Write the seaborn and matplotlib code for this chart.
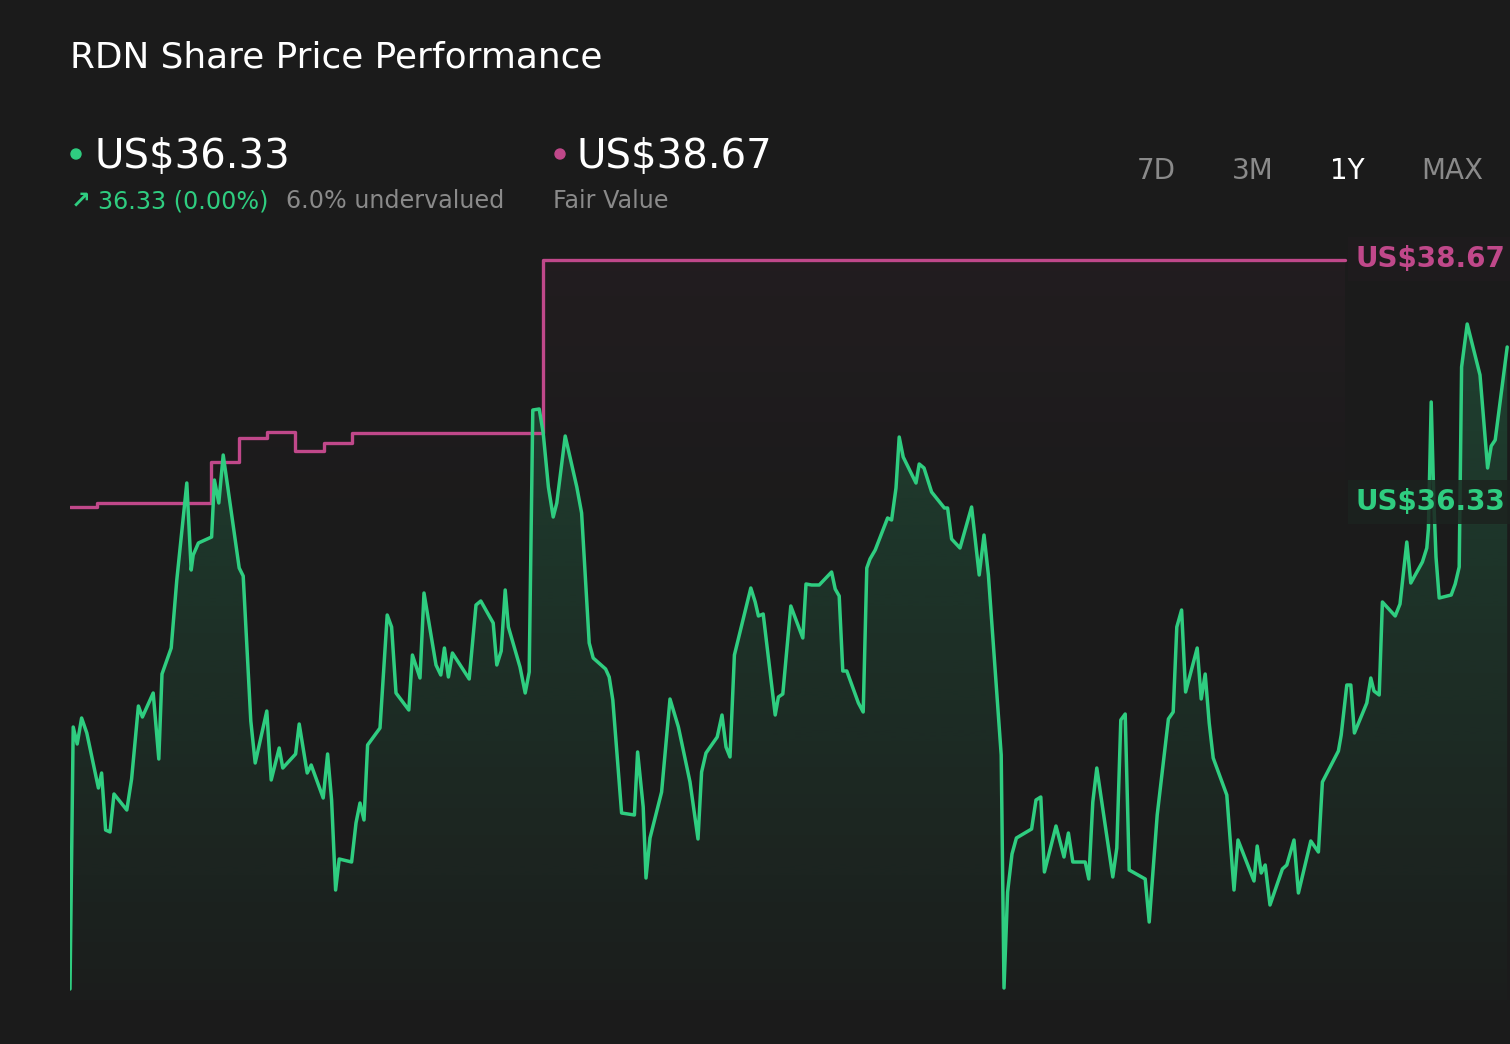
import numpy as np
import pandas as pd
import matplotlib
matplotlib.use("Agg")
import matplotlib.pyplot as plt
from matplotlib.patches import Ellipse
import matplotlib.colors as mcolors
import seaborn as sns

# ---------------- data ----------------
days = [0, 0.8, 1.8, 2.9, 4.2, 7.1, 7.9, 8.9, 10.0, 11.0, 14.2, 15.4, 17.1, 18.1, 20.8, 22.2, 23.0, 25.3,
        26.7, 29.2, 30.3, 30.8, 32.1, 35.4, 36.1, 37.2, 38.3, 42.3, 43.3, 45.2, 46.3,
        49.2, 50.3, 52.3, 53.2, 56.4, 57.3, 59.3, 60.3, 63.3, 64.4, 65.4, 66.4, 67.3, 70.4, 71.5, 72.5,
        73.5, 74.4, 77.5, 79.3, 80.4, 81.5, 84.7, 85.6, 87.5, 88.5, 91.5, 92.7, 93.6, 94.6,
        95.6, 99.8, 101.5, 102.7, 105.8, 106.7, 107.8, 108.8, 109.6, 112.5, 113.8, 114.8, 115.7, 117.3,
        118.3, 119.6, 120.8, 121.7, 123.8, 126.7, 127.9, 129.8, 130.8, 133.9, 134.8, 135.7, 137.9, 141.1, 141.9,
        143.3, 144.0, 145.0, 147.9, 150.0, 152.1, 155.0, 157.0, 157.9, 159.0, 161.8, 163.0, 164.0, 165.0,
        166.1, 170.2, 171.3, 172.1, 173.3, 176.3, 177.1, 178.2, 180.2, 183.2, 184.0, 185.4, 187.3,
        190.4, 191.3, 192.3, 193.2, 194.2, 197.1, 198.3, 199.2, 200.0, 201.3, 204.4, 205.4, 206.5, 207.3,
        208.3, 211.5, 212.3, 213.5, 215.4, 218.6, 219.4, 220.4, 222.5, 225.4, 227.3, 228.5, 229.6, 232.8,
        233.5, 234.4, 235.5, 236.6,
        240.4, 241.5, 242.7, 243.6, 246.5, 248.5, 249.6, 250.7, 253.8, 254.7, 255.7, 256.7, 260.7, 261.7,
        262.7, 263.8, 264.8, 268.8, 269.8, 271.8, 274.6, 275.8, 276.7, 277.9, 278.9, 281.8, 282.8, 283.8,
        284.8, 285.8, 289.2, 291.0, 292.0,
        296.0, 296.8, 297.8, 298.8, 300.0, 303.1, 304.2, 306.0, 307.1, 310.2, 312.1, 313.1, 317.1, 317.8,
        319.2, 320.2, 321.1, 324.2, 325.2, 326.0, 327.3, 328.1, 331.3, 332.5, 334.2, 335.2, 338.1, 339.2,
        339.6, 340.3, 341.0, 341.5, 342.3, 345.3, 346.3, 347.3, 347.9, 349.3, 352.5, 354.4, 355.3, 356.3, 359.3]

prices = [31.38, 34.00, 33.83, 34.09, 33.94, 33.39, 33.54, 32.97, 32.95, 33.33, 33.17, 33.48, 34.21, 34.10,
          34.34, 33.68, 34.53, 34.79, 35.47, 36.44, 35.57, 35.72, 35.84, 35.90, 36.47, 36.24, 36.72, 35.59,
          35.51, 34.06, 33.64,
          34.16, 33.47, 33.79, 33.59, 33.73, 34.03, 33.54, 33.62, 33.29, 33.73, 33.27, 32.37, 32.68, 32.65,
          33.04, 33.24, 33.07, 33.82, 33.99, 35.12, 35.00, 34.34, 34.17, 34.72, 34.49, 35.34, 34.62, 34.52,
          34.79, 34.50,
          34.74, 34.48, 35.22, 35.26, 35.04, 34.62, 34.76, 35.37, 35.00, 34.60, 34.34, 34.55, 37.17, 37.18,
          36.94, 36.40, 36.10, 36.24, 36.91, 36.40, 36.14, 34.84, 34.69, 34.58, 34.50, 34.27, 33.14, 33.12, 33.75,
          33.20, 32.49, 32.89, 33.35, 34.28, 34.00, 33.45, 32.88, 33.55, 33.74, 33.90, 34.12, 33.80, 33.70,
          34.72, 35.39, 35.25, 35.11, 35.13, 34.12, 34.30, 34.33, 35.21, 34.89, 35.43, 35.42, 35.42,
          35.55, 35.38, 35.31, 34.56, 34.56, 34.24, 34.15, 35.59, 35.68, 35.77, 36.09, 36.07, 36.39, 36.90,
          36.70, 36.44, 36.63, 36.59, 36.35, 36.19, 36.19, 35.88, 35.79, 36.20, 35.52, 35.92, 35.52, 33.72,
          31.39, 32.35, 32.73, 32.89,
          32.98, 33.27, 33.30, 32.55, 33.01, 32.70, 32.94, 32.65, 32.65, 32.48, 33.25, 33.59, 32.50, 32.79,
          34.07, 34.13, 32.57, 32.48, 32.05, 33.12, 34.08, 34.15, 35.00, 35.17, 34.35, 34.79, 34.28, 34.53,
          34.04, 33.69, 33.32, 32.37, 32.87,
          32.46, 32.81, 32.54, 32.62, 32.22, 32.58, 32.62, 32.87, 32.34, 32.86, 32.75, 33.45, 33.76, 33.92,
          34.42, 34.42, 33.94, 34.24, 34.49, 34.36, 34.32, 35.25, 35.11, 35.23, 35.85, 35.44, 35.65, 35.79,
          35.98, 37.25, 36.21, 35.70, 35.29, 35.32, 35.43, 35.60, 37.60, 38.03, 37.52, 36.59, 36.81, 36.87, 37.80]

fv_days = [0, 6.8, 35.3, 42.3, 49.3, 56.3, 63.5, 70.5, 118.2, 318.8]
fv_values = [36.20, 36.24, 36.65, 36.89, 36.95, 36.76, 36.84, 36.94, 38.67, 38.67]

title = "RDN Share Price Performance"
current_price = "US$36.33"
fair_value = "US$38.67"
change_text = "36.33 (0.00%)"
valuation_text = "6.0% undervalued"
fv_caption = "Fair Value"
periods = ["7D", "3M", "1Y", "MAX"]
active_period = "1Y"

# ---------------- style ----------------
BG = "#1b1b1b"
GREEN = "#2fcd80"
PINK = "#c0488a"
GREY = "#8a8a8a"

sns.set_theme(style="dark", rc={"axes.facecolor": BG, "figure.facecolor": BG})
plt.rcParams["font.family"] = ["DejaVu Sans"]

W, H = 1510, 1044
fig = plt.figure(figsize=(W / 100, H / 100), dpi=100, facecolor=BG)


def fx(px):
    return px / W


def fy(py):
    return 1 - py / H


ax = fig.add_axes([fx(70), fy(1000), 1 - fx(70), 775 / H])
ax.set_facecolor(BG)
XMAX = 360
Y0, Y1 = 31.27, 39.02

df = pd.DataFrame({"day": days, "price": prices})
fvdf = pd.DataFrame({"day": fv_days, "value": fv_values})

# gradient fills
poly = ax.fill_between(df["day"], df["price"], Y0, facecolor="none", edgecolor="none")
n = 256
alpha = np.linspace(0.015, 0.24, n).reshape(-1, 1)
img = np.zeros((n, 1, 4))
img[..., :3] = np.array(mcolors.to_rgb(GREEN))
img[..., 3] = alpha
im = ax.imshow(img, extent=[0, XMAX, Y0, Y1], aspect="auto", origin="lower", zorder=2, interpolation="bilinear")
im.set_clip_path(poly.get_paths()[0], transform=ax.transData)

poly2 = ax.fill_between(fvdf["day"], fvdf["value"], Y0, step="post", facecolor="none", edgecolor="none")
alpha2 = np.clip(np.linspace(-0.07, 0.05, n), 0, None).reshape(-1, 1)
img2 = np.zeros((n, 1, 4))
img2[..., :3] = np.array(mcolors.to_rgb(PINK))
img2[..., 3] = alpha2
im2 = ax.imshow(img2, extent=[0, XMAX, Y0, Y1], aspect="auto", origin="lower", zorder=1, interpolation="bilinear")
im2.set_clip_path(poly2.get_paths()[0], transform=ax.transData)

sns.lineplot(data=fvdf, x="day", y="value", ax=ax, color=PINK, lw=2.4, drawstyle="steps-post", zorder=4)
sns.lineplot(data=df, x="day", y="price", ax=ax, color=GREEN, lw=2.5, zorder=5)

ax.set_xlim(0, XMAX)
ax.set_ylim(Y0, Y1)
ax.set_xlabel("")
ax.set_ylabel("")
ax.set_xticks([])
ax.set_yticks([])
ax.grid(False)
for s in ax.spines.values():
    s.set_visible(False)

# ---------------- header text ----------------
fig.text(fx(70), fy(67), title, color="white", fontsize=25.8, va="baseline", ha="left")

fig.patches.append(Ellipse((fx(76), fy(154)), 10 / W, 10 / H, transform=fig.transFigure, color=GREEN))
fig.text(fx(94), fy(168), current_price, color="white", fontsize=29, va="baseline", ha="left")
fig.patches.append(Ellipse((fx(560), fy(154)), 10 / W, 10 / H, transform=fig.transFigure, color=PINK))
fig.text(fx(577), fy(168), fair_value, color="white", fontsize=29, va="baseline", ha="left")

fig.text(fx(71), fy(208), "\u2197", color=GREEN, fontsize=17, fontweight="bold", va="baseline", ha="left")
fig.text(fx(98), fy(208), change_text, color=GREEN, fontsize=17.2, va="baseline", ha="left")
fig.text(fx(286), fy(208), valuation_text, color=GREY, fontsize=17.2, va="baseline", ha="left")
fig.text(fx(553), fy(208), fv_caption, color=GREY, fontsize=17.2, va="baseline", ha="left")

for label, cx in zip(periods, [1156, 1253, 1347, 1452]):
    fig.text(fx(cx), fy(179), label, color="white" if label == active_period else GREY,
             fontsize=20, va="baseline", ha="center")

# right-hand value labels
fig.text(fx(1356), fy(259), fair_value, color=PINK, fontsize=20, fontweight="bold", va="center", ha="left",
         bbox=dict(boxstyle="square,pad=0.3", fc="#1e1b1d", ec="none"))
fig.text(fx(1356), fy(502), current_price, color=GREEN, fontsize=20, fontweight="bold", va="center", ha="left",
         bbox=dict(boxstyle="square,pad=0.3", fc="#1c231f", ec="none", alpha=0.85))

fig.savefig("out.png", dpi=100, facecolor=BG)
